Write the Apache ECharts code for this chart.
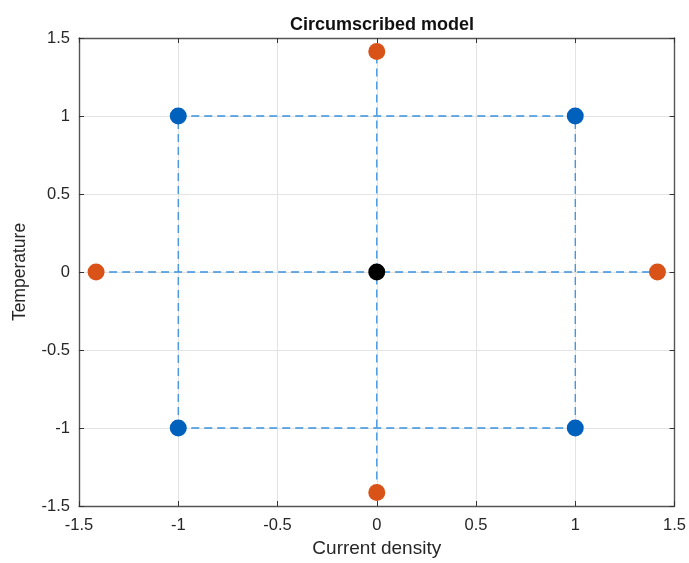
<!DOCTYPE html>
<html><head><meta charset="utf-8">
<script src="https://cdn.jsdelivr.net/npm/echarts@6/dist/echarts.min.js"></script>
<style>html,body{margin:0;padding:0;background:#fff}#c{width:689px;height:563px}</style>
</head><body><div id="c"></div>
<script>
const ticks = [-1.5, -1, -0.5, 0, 0.5, 1, 1.5];
const factorialX = [-1, 1, -1, 1];
const factorialY = [-1, -1, 1, 1];
const axialX = [-1.414, 1.414, 0, 0];
const axialY = [0, 0, -1.414, 1.414];
const centerX = [0];
const centerY = [0];
// dashed connecting segments [x1, y1, x2, y2]
const segX1 = [-1, -1, -1.414, -1, 1, 0];
const segY1 = [1, -1, 0, -1, -1, -1.414];
const segX2 = [1, 1, 1.414, -1, 1, 0];
const segY2 = [1, -1, 0, 1, 1, 1.414];

const zip = (a, b) => a.map((v, i) => [v, b[i]]);
const font = 'Liberation Sans, Arial, sans-serif';
const lineSeries = segX1.map((x, i) => ({
  type: 'line', data: [[x, segY1[i]], [segX2[i], segY2[i]]],
  symbol: 'none', silent: true, z: 1,
  lineStyle: { color: '#3a92de', width: 1.3, type: [8, 5] }
}));
const tickFmt = v => String(v);
const baseAxis = {
  type: 'value', min: ticks[0], max: ticks[ticks.length - 1], interval: 0.5,
  axisLine: { show: true, onZero: false, lineStyle: { color: '#555', width: 1.4 } },
  axisTick: { show: true, inside: true, length: 5, lineStyle: { color: '#333' } },
  splitLine: { show: true, lineStyle: { color: '#e3e3e3', width: 1 } },
  axisLabel: { color: '#262626', fontSize: 16.5, fontFamily: font, formatter: tickFmt }
};
const chart = echarts.init(document.getElementById('c'));
chart.setOption({
  animation: false,
  title: { text: 'Circumscribed model', left: 377, top: 11, textAlign: 'center',
    textStyle: { fontSize: 18, fontWeight: 'bold', color: '#111', fontFamily: font } },
  grid: { left: 79, right: 14, top: 38, bottom: 55 },
  xAxis: [
    Object.assign({}, baseAxis, { position: 'bottom', name: 'Current density', nameLocation: 'middle', nameGap: 33,
      nameTextStyle: { fontSize: 19, color: '#262626', fontFamily: font },
      axisLabel: Object.assign({}, baseAxis.axisLabel, { margin: 11 }) }),
    Object.assign({}, baseAxis, { position: 'top', splitLine: { show: false }, axisLabel: { show: false } })
  ],
  yAxis: [
    Object.assign({}, baseAxis, { position: 'left', name: 'Temperature', nameLocation: 'middle', nameGap: 50,
      nameTextStyle: { fontSize: 17.5, color: '#262626', fontFamily: font },
      axisLabel: Object.assign({}, baseAxis.axisLabel, { margin: 9 }) }),
    Object.assign({}, baseAxis, { position: 'right', splitLine: { show: false }, axisLabel: { show: false } })
  ],
  series: lineSeries.concat([
    { type: 'scatter', data: zip(factorialX, factorialY), symbolSize: 17, z: 3,
      itemStyle: { color: '#0061bd', opacity: 1 } },
    { type: 'scatter', data: zip(axialX, axialY), symbolSize: 17, z: 3,
      itemStyle: { color: '#d95319', opacity: 1 } },
    { type: 'scatter', data: zip(centerX, centerY), symbolSize: 17, z: 3,
      itemStyle: { color: '#000', opacity: 1 } }
  ])
});
</script></body></html>
